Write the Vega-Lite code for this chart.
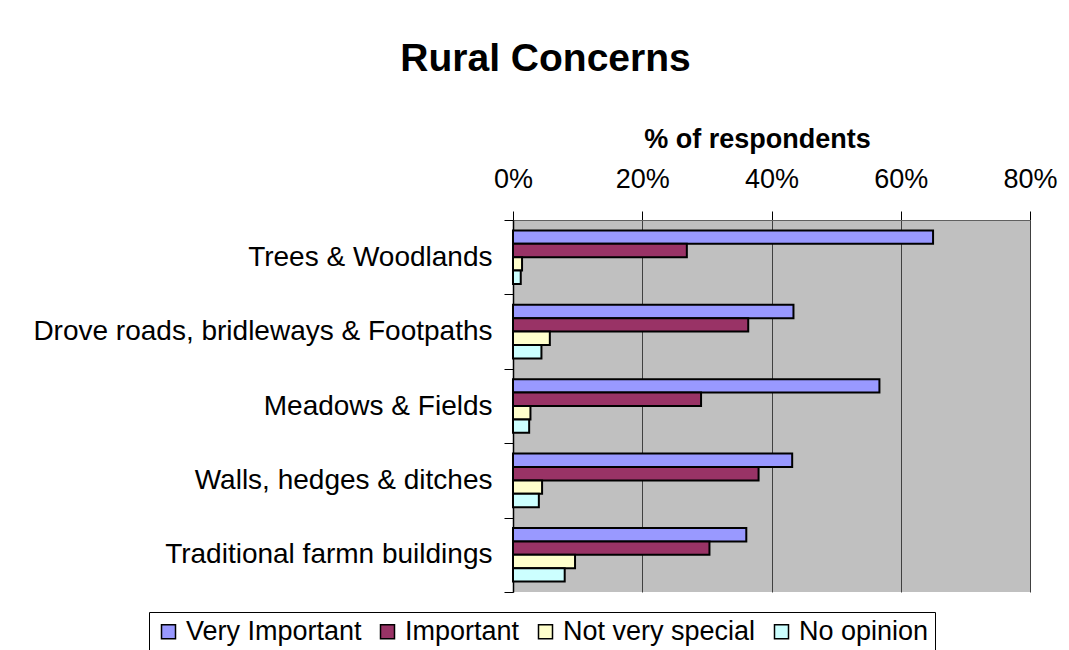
{
  "$schema": "https://vega.github.io/schema/vega-lite/v6.json",
  "width": 517,
  "height": 372,
  "autosize": {"type": "none"},
  "padding": {"left": 513, "top": 220, "right": 39, "bottom": 58},
  "background": "white",
  "title": {
    "text": "Rural Concerns",
    "font": "Liberation Sans",
    "fontSize": 39,
    "fontWeight": "bold",
    "color": "black",
    "anchor": "middle",
    "frame": "group",
    "dx": -226,
    "offset": 46
  },
  "data": {
    "values": [
      {"concern": "Trees & Woodlands", "response": "Very Important", "pct": 65.0},
      {"concern": "Trees & Woodlands", "response": "Important", "pct": 26.9},
      {"concern": "Trees & Woodlands", "response": "Not very special", "pct": 1.4},
      {"concern": "Trees & Woodlands", "response": "No opinion", "pct": 1.2},
      {"concern": "Drove roads, bridleways & Footpaths", "response": "Very Important", "pct": 43.4},
      {"concern": "Drove roads, bridleways & Footpaths", "response": "Important", "pct": 36.4},
      {"concern": "Drove roads, bridleways & Footpaths", "response": "Not very special", "pct": 5.7},
      {"concern": "Drove roads, bridleways & Footpaths", "response": "No opinion", "pct": 4.4},
      {"concern": "Meadows & Fields", "response": "Very Important", "pct": 56.7},
      {"concern": "Meadows & Fields", "response": "Important", "pct": 29.1},
      {"concern": "Meadows & Fields", "response": "Not very special", "pct": 2.7},
      {"concern": "Meadows & Fields", "response": "No opinion", "pct": 2.5},
      {"concern": "Walls, hedges & ditches", "response": "Very Important", "pct": 43.2},
      {"concern": "Walls, hedges & ditches", "response": "Important", "pct": 38.0},
      {"concern": "Walls, hedges & ditches", "response": "Not very special", "pct": 4.5},
      {"concern": "Walls, hedges & ditches", "response": "No opinion", "pct": 4.0},
      {"concern": "Traditional farmn buildings", "response": "Very Important", "pct": 36.1},
      {"concern": "Traditional farmn buildings", "response": "Important", "pct": 30.4},
      {"concern": "Traditional farmn buildings", "response": "Not very special", "pct": 9.6},
      {"concern": "Traditional farmn buildings", "response": "No opinion", "pct": 8.0}
    ]
  },
  "mark": {"type": "bar", "stroke": "black", "strokeWidth": 2},
  "encoding": {
    "y": {
      "field": "concern",
      "type": "nominal",
      "sort": ["Trees & Woodlands", "Drove roads, bridleways & Footpaths", "Meadows & Fields", "Walls, hedges & ditches", "Traditional farmn buildings"],
      "title": null,
      "scale": {"paddingInner": 0, "paddingOuter": 0},
      "axis": {
        "labelFont": "Liberation Sans",
        "labelFontSize": 28,
        "labelColor": "black",
        "labelPadding": 12,
        "labelLimit": 600,
        "domainColor": "black",
        "domainWidth": 1.5,
        "tickColor": "black",
        "tickSize": 9,
        "tickBand": "extent"
      }
    },
    "yOffset": {
      "field": "response",
      "type": "nominal",
      "sort": ["Very Important", "Important", "Not very special", "No opinion"],
      "scale": {"paddingInner": 0, "paddingOuter": 0.776}
    },
    "x": {
      "field": "pct",
      "type": "quantitative",
      "scale": {"domain": [0, 80], "nice": false},
      "axis": {
        "orient": "top",
        "values": [0, 20, 40, 60, 80],
        "labelExpr": "datum.value + '%'",
        "labelFont": "Liberation Sans",
        "labelFontSize": 27,
        "labelColor": "black",
        "labelPadding": 18,
        "labelFlush": false,
        "tickColor": "black",
        "tickSize": 9,
        "domainColor": "#606060",
        "grid": true,
        "gridColor": "#404040",
        "gridWidth": 1,
        "title": "% of respondents",
        "titleFont": "Liberation Sans",
        "titleFontSize": 27,
        "titleFontWeight": "bold",
        "titleColor": "black",
        "titlePadding": 12,
        "titleX": 244,
        "titleAlign": "center"
      }
    },
    "color": {
      "field": "response",
      "type": "nominal",
      "scale": {
        "domain": ["Very Important", "Important", "Not very special", "No opinion"],
        "range": ["#9999FF", "#993366", "#FFFFCC", "#CCFFFF"]
      },
      "legend": {
        "title": null,
        "orient": "none",
        "legendX": -364,
        "legendY": 392,
        "direction": "horizontal",
        "strokeColor": "black",
        "fillColor": "white",
        "padding": 6,
        "symbolType": "square",
        "symbolSize": 196,
        "symbolStrokeColor": "black",
        "symbolStrokeWidth": 1.5,
        "labelFont": "Liberation Sans",
        "labelFontSize": 27,
        "labelLimit": 400,
        "labelColor": "black",
        "labelOffset": 4,
        "columnPadding": 12
      }
    }
  },
  "config": {
    "view": {"fill": "#C0C0C0", "stroke": null}
  }
}
